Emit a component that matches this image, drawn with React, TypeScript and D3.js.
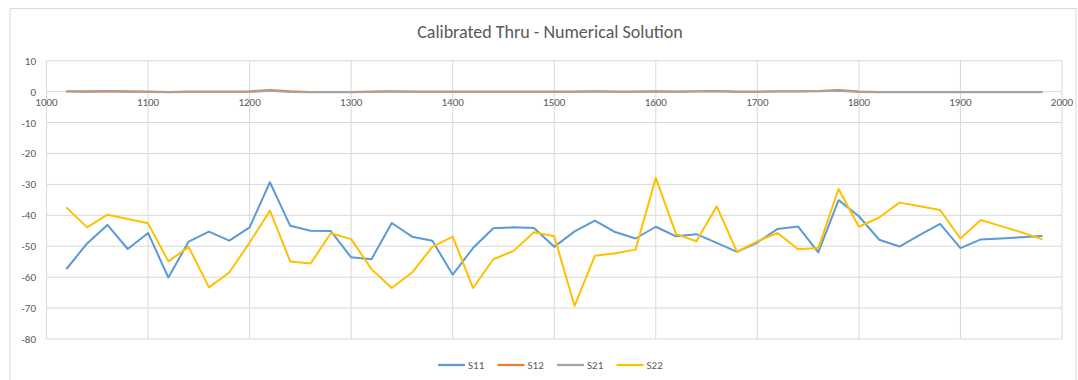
import * as d3 from 'd3';

const freqs = [
  1020, 1040, 1060, 1080, 1100, 1120, 1140, 1160, 1180, 1200,
  1220, 1240, 1260, 1280, 1300, 1320, 1340, 1360, 1380, 1400,
  1420, 1440, 1460, 1480, 1500, 1520, 1540, 1560, 1580, 1600,
  1620, 1640, 1660, 1680, 1700, 1720, 1740, 1760, 1780, 1800,
  1820, 1840, 1860, 1880, 1900, 1920, 1940, 1960, 1980,
];

const s11 = [
  -57.2, -49.1, -43.1, -50.9, -45.7, -60.1, -48.5, -45.3, -48.2, -43.9,
  -29.3, -43.4, -45.0, -45.1, -53.6, -54.2, -42.5, -46.9, -48.2, -59.2,
  -50.6, -44.2, -43.9, -44.1, -50.2, -45.2, -41.7, -45.4, -47.5, -43.7,
  -46.8, -46.1, -48.9, -51.8, -48.8, -44.4, -43.6, -52.0, -35.1, -40.3,
  -47.9, -50.1, -46.3, -42.8, -50.6, -47.8, -47.5, -47.1, -46.7,
];

const s12 = [
  0.1, 0.1, 0.2, 0.1, 0.0, -0.1, 0.0, 0.0, 0.0, 0.1,
  0.5, 0.1, -0.1, -0.1, -0.1, 0.0, 0.1, 0.0, 0.0, 0.0,
  0.0, 0.0, 0.0, 0.0, 0.0, 0.0, 0.1, 0.0, 0.0, 0.1,
  0.0, 0.1, 0.2, 0.0, 0.0, 0.1, 0.1, 0.2, 0.5, 0.0,
  -0.1, -0.1, -0.1, -0.1, -0.1, -0.1, -0.1, -0.1, -0.1,
];

const s21 = [
  0.0, -0.1, 0.0, -0.1, -0.1, -0.2, -0.1, -0.1, -0.1, -0.1,
  0.3, -0.1, -0.2, -0.2, -0.2, -0.1, 0.0, -0.1, -0.1, -0.1,
  -0.1, -0.1, -0.1, -0.1, -0.1, -0.1, 0.0, -0.1, -0.1, 0.0,
  -0.1, 0.0, 0.1, -0.1, -0.1, 0.0, 0.0, 0.1, 0.3, -0.1,
  -0.2, -0.2, -0.2, -0.2, -0.2, -0.2, -0.2, -0.2, -0.2,
];

const s22 = [
  -37.6, -43.9, -39.8, -41.2, -42.6, -54.9, -50.2, -63.3, -58.5, -48.8,
  -38.5, -54.9, -55.6, -45.8, -47.7, -57.4, -63.5, -58.5, -50.2, -46.9,
  -63.5, -54.2, -51.5, -45.5, -46.8, -69.3, -53.1, -52.3, -51.1, -27.9,
  -46.1, -48.4, -37.1, -51.8, -48.4, -45.7, -51.0, -50.6, -31.5, -43.7,
  -40.7, -35.9, -37.1, -38.3, -47.5, -41.5, -43.5, -45.5, -47.7,
];

const seriesNames = ['S11', 'S12', 'S21', 'S22'];
const seriesColors = ['#5b9bd5', '#ed7d31', '#a5a5a5', '#ffc000'];
const seriesValues = [s11, s12, s21, s22];

const xTicks = [1000, 1100, 1200, 1300, 1400, 1500, 1600, 1700, 1800, 1900, 2000];
const yTicks = [10, 0, -10, -20, -30, -40, -50, -60, -70, -80];

const W = 1078;
const H = 380;
const FONT = "Calibri, Carlito, 'Open Sans', 'Liberation Sans', sans-serif";

export default function App() {
  const x = d3.scaleLinear().domain([1000, 2000]).range([46.5, 1062]);
  const y = d3.scaleLinear().domain([-80, 10]).range([339, 60.7]);

  const line = d3
    .line<number>()
    .x((_, i) => x(freqs[i]))
    .y((d) => y(d));

  // legend layout
  const legendY = 365;
  const legendStart = 438;
  const legendStep = 59.5;

  return (
    <svg
      width={W}
      height={H}
      style={{ position: 'absolute', left: 0, top: 0, background: '#fff' }}
      fontFamily={FONT}
    >
      {/* chart frame */}
      <rect x={10} y={8.5} width={1066} height={380} fill='#fff' stroke='#d9d9d9' />

      <text x={550} y={38} textAnchor='middle' fontSize={18} fill='#595959'>
        Calibrated Thru - Numerical Solution
      </text>

      {/* gridlines */}
      <g stroke='#d9d9d9' strokeWidth={1}>
        {yTicks.map((t) => (
          <line key={t} x1={x(1000)} x2={x(2000)} y1={y(t)} y2={y(t)} />
        ))}
        {xTicks.map((t) => (
          <line key={t} x1={x(t)} x2={x(t)} y1={y(10)} y2={y(-80)} />
        ))}
      </g>

      {/* y tick labels */}
      <g fontSize={11} fill='#595959' textAnchor='end'>
        {yTicks.map((t) => (
          <text key={t} x={36} y={y(t) + 4}>
            {t}
          </text>
        ))}
      </g>

      {/* x tick labels sit under the zero line */}
      <g fontSize={11} fill='#595959' textAnchor='middle'>
        {xTicks.map((t) => (
          <text key={t} x={x(t)} y={y(0) + 14}>
            {t}
          </text>
        ))}
      </g>

      {/* series */}
      <g fill='none' strokeWidth={2} strokeLinejoin='round' strokeLinecap='round'>
        {seriesValues.map((vals, i) => (
          <path key={seriesNames[i]} d={line(vals) ?? ''} stroke={seriesColors[i]} />
        ))}
      </g>

      {/* legend */}
      <g fontSize={11} fill='#595959'>
        {seriesNames.map((name, i) => {
          const lx = legendStart + i * legendStep;
          return (
            <g key={name}>
              <line
                x1={lx}
                x2={lx + 27}
                y1={legendY}
                y2={legendY}
                stroke={seriesColors[i]}
                strokeWidth={2.25}
              />
              <text x={lx + 30} y={legendY + 4}>
                {name}
              </text>
            </g>
          );
        })}
      </g>
    </svg>
  );
}
